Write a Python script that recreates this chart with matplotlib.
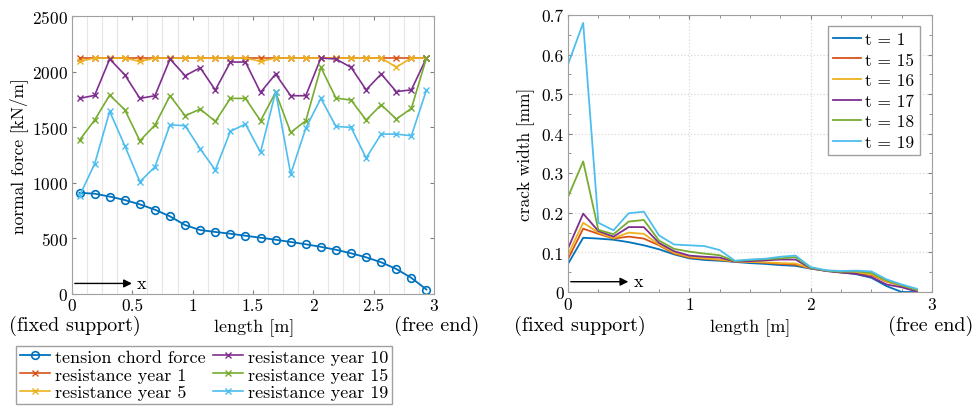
import numpy as np
import matplotlib.pyplot as plt

plt.rcParams['font.family'] = 'serif'
plt.rcParams['font.serif'] = ['cmr10', 'DejaVu Serif']
plt.rcParams['mathtext.fontset'] = 'cm'
plt.rcParams['axes.formatter.use_mathtext'] = True
plt.rcParams['font.size'] = 12

### DATA
# left: normal force along the member (element mid points)
x_force = [0.0625, 0.1875, 0.3125, 0.4375, 0.5625, 0.6875, 0.8125, 0.9375,
           1.0625, 1.1875, 1.3125, 1.4375, 1.5625, 1.6875, 1.8125, 1.9375,
           2.0625, 2.1875, 2.3125, 2.4375, 2.5625, 2.6875, 2.8125, 2.9375]

chord_force = [910, 902, 876, 845, 806, 758, 698, 620, 575, 558, 542, 524,
               506, 488, 468, 447, 424, 398, 366, 330, 285, 225, 145, 40]
res_y1 = [2122, 2122, 2122, 2122, 2122, 2122, 2122, 2122, 2122, 2122, 2122, 2122,
          2122, 2122, 2122, 2122, 2122, 2122, 2122, 2122, 2122, 2122, 2122, 2122]
res_y5 = [2092, 2122, 2122, 2122, 2092, 2122, 2122, 2122, 2122, 2122, 2122, 2122,
          2092, 2122, 2122, 2122, 2122, 2122, 2122, 2122, 2122, 2040, 2122, 2122]
res_y10 = [1759, 1786, 2113, 1971, 1759, 1783, 2113, 1963, 2035, 1834, 2086, 2086,
           1813, 1978, 1783, 1783, 2122, 2113, 2038, 1836, 1978, 1820, 1836, 2122]
res_y15 = [1384, 1564, 1789, 1657, 1378, 1519, 1783, 1603, 1663, 1552, 1759, 1759,
           1558, 1813, 1453, 1558, 2038, 1762, 1744, 1564, 1702, 1573, 1669, 2122]
res_y19 = [884, 1169, 1642, 1333, 1009, 1144, 1522, 1513, 1304, 1115, 1463, 1528,
           1274, 1819, 1079, 1492, 1759, 1507, 1498, 1223, 1438, 1438, 1423, 1834]

# right: crack width along the member
x_crack = [0.0, 0.125, 0.25, 0.375, 0.5, 0.625, 0.75, 0.875, 1.0, 1.125, 1.25, 1.375,
           1.5, 1.625, 1.75, 1.875, 2.0, 2.125, 2.25, 2.375, 2.5, 2.625, 2.75, 2.875]

w_t1 = [0.071, 0.137, 0.135, 0.132, 0.126, 0.118, 0.108, 0.095, 0.085, 0.081, 0.079, 0.076,
        0.073, 0.071, 0.068, 0.066, 0.059, 0.054, 0.050, 0.045, 0.036, 0.015, 0.0, 0.0]
w_t15 = [0.083, 0.160, 0.147, 0.135, 0.140, 0.135, 0.118, 0.097, 0.087, 0.084, 0.081, 0.077,
         0.076, 0.074, 0.071, 0.069, 0.060, 0.054, 0.050, 0.047, 0.043, 0.026, 0.016, 0.004]
w_t16 = [0.094, 0.175, 0.150, 0.136, 0.150, 0.147, 0.120, 0.099, 0.089, 0.085, 0.082, 0.077,
         0.076, 0.075, 0.073, 0.072, 0.060, 0.054, 0.050, 0.048, 0.045, 0.027, 0.016, 0.004]
w_t17 = [0.110, 0.198, 0.154, 0.140, 0.164, 0.164, 0.124, 0.103, 0.092, 0.089, 0.087, 0.077,
         0.078, 0.080, 0.082, 0.082, 0.060, 0.053, 0.049, 0.046, 0.038, 0.019, 0.012, 0.001]
w_t18 = [0.240, 0.330, 0.157, 0.146, 0.178, 0.182, 0.130, 0.109, 0.102, 0.097, 0.093, 0.078,
         0.081, 0.083, 0.085, 0.088, 0.061, 0.054, 0.051, 0.052, 0.048, 0.029, 0.017, 0.005]
w_t19 = [0.575, 0.680, 0.175, 0.156, 0.199, 0.203, 0.143, 0.120, 0.118, 0.116, 0.106, 0.079,
         0.082, 0.084, 0.089, 0.092, 0.063, 0.055, 0.053, 0.054, 0.052, 0.032, 0.019, 0.008]

colors = ['#0072BD', '#D95319', '#EDB120', '#7E2F8E', '#77AC30', '#4DBEEE']

W, H = 979, 414
fig = plt.figure(figsize=(W / 100, H / 100), dpi=100)
ax1 = fig.add_axes([72 / W, 1 - 295 / H, 362 / W, 278 / H])
ax2 = fig.add_axes([568 / W, 1 - 293 / H, 364 / W, 277 / H])


def px_text(x, y, s, size):
    # place a text by its centre in picture pixels
    fig.text(x / W, 1 - y / H, s, ha='center', va='center', fontsize=size)


### LEFT PLOT
ax1.plot(x_force, chord_force, color=colors[0], marker='o', ms=5.5, mfc='none',
         mew=1.2, lw=1.3, label='tension chord force')
res = [res_y1, res_y5, res_y10, res_y15, res_y19]
res_names = ['resistance year 1', 'resistance year 5', 'resistance year 10',
             'resistance year 15', 'resistance year 19']
for r, name, c in zip(res, res_names, colors[1:]):
    ax1.plot(x_force, r, color=c, marker='x', ms=4, mew=1.0, lw=1.2, label=name)

ax1.set_xlim(0, 3)
ax1.set_ylim(0, 2500)
ax1.set_xticks([0, 0.5, 1, 1.5, 2, 2.5, 3])
ax1.set_xticklabels(['0', '0.5', '1', '1.5', '2', '2.5', '3'])
ax1.set_yticks([0, 500, 1000, 1500, 2000, 2500])
ax1.set_xticks(np.arange(0.125, 3, 0.125), minor=True)
ax1.grid(which='minor', axis='x', color='#e6e6e6', lw=0.8)
ax1.set_axisbelow(True)
ax1.tick_params(which='major', direction='in', length=3, top=True, right=True,
                color='#808080', labelsize=12.5, pad=3)
ax1.tick_params(which='minor', length=0)
ax1.set_ylabel('normal force [kN/m]', fontsize=12.5, labelpad=3)
ax1.annotate('', xy=(0.52, 95), xytext=(0, 95),
             arrowprops=dict(arrowstyle='-|>', color='black', lw=1, mutation_scale=12))
ax1.text(0.54, 95, 'x', va='center', ha='left', fontsize=13)
for s in ax1.spines.values():
    s.set_color('#a0a0a0')

px_text(75, 326, '(fixed support)', 14.5)
px_text(254, 328, 'length [m]', 13)
px_text(437, 326, '(free end)', 14.5)

fig.legend(loc='lower left', bbox_to_anchor=(7 / W, 0.0), ncol=2,
           fancybox=False, edgecolor='#a0a0a0', framealpha=1,
           handlelength=1.7, handletextpad=0.25, columnspacing=0.4,
           borderpad=0.2, labelspacing=0.12, fontsize=13)

### RIGHT PLOT
widths = [w_t1, w_t15, w_t16, w_t17, w_t18, w_t19]
t_names = ['t = 1', 't = 15', 't = 16', 't = 17', 't = 18', 't = 19']
for w, name, c in zip(widths, t_names, colors):
    ax2.plot(x_crack, w, color=c, lw=1.3, label=name)

ax2.set_xlim(0, 3)
ax2.set_ylim(0, 0.7)
ax2.set_xticks([0, 1, 2, 3])
ax2.set_yticks([0, 0.1, 0.2, 0.3, 0.4, 0.5, 0.6, 0.7])
ax2.set_yticklabels(['0', '0.1', '0.2', '0.3', '0.4', '0.5', '0.6', '0.7'])
ax2.set_xticks(np.arange(0.25, 3, 0.25), minor=True)
ax2.set_yticks(np.arange(0.05, 0.7, 0.05), minor=True)
ax2.grid(which='major', color='#d9d9d9', linestyle=':', lw=0.9)
ax2.set_axisbelow(True)
ax2.tick_params(which='both', direction='in', top=True, right=True, color='#808080')
ax2.tick_params(which='major', length=3, labelsize=12.5, pad=3)
ax2.tick_params(which='minor', length=2)
ax2.set_ylabel('crack width [mm]', fontsize=12.5, labelpad=5)
ax2.annotate('', xy=(0.52, 0.026), xytext=(0, 0.026),
             arrowprops=dict(arrowstyle='-|>', color='black', lw=1, mutation_scale=12))
ax2.text(0.54, 0.026, 'x', va='center', ha='left', fontsize=13)
for s in ax2.spines.values():
    s.set_color('#a0a0a0')
ax2.legend(loc='upper right', bbox_to_anchor=(0.99, 0.99), fancybox=False,
           edgecolor='#a0a0a0', framealpha=1, handlelength=1.6, handletextpad=0.25,
           borderpad=0.3, labelspacing=0.3, fontsize=12.5)

px_text(580, 326, '(fixed support)', 14.5)
px_text(750, 328, 'length [m]', 13)
px_text(931, 326, '(free end)', 14.5)

fig.savefig('out.png', dpi=100)
